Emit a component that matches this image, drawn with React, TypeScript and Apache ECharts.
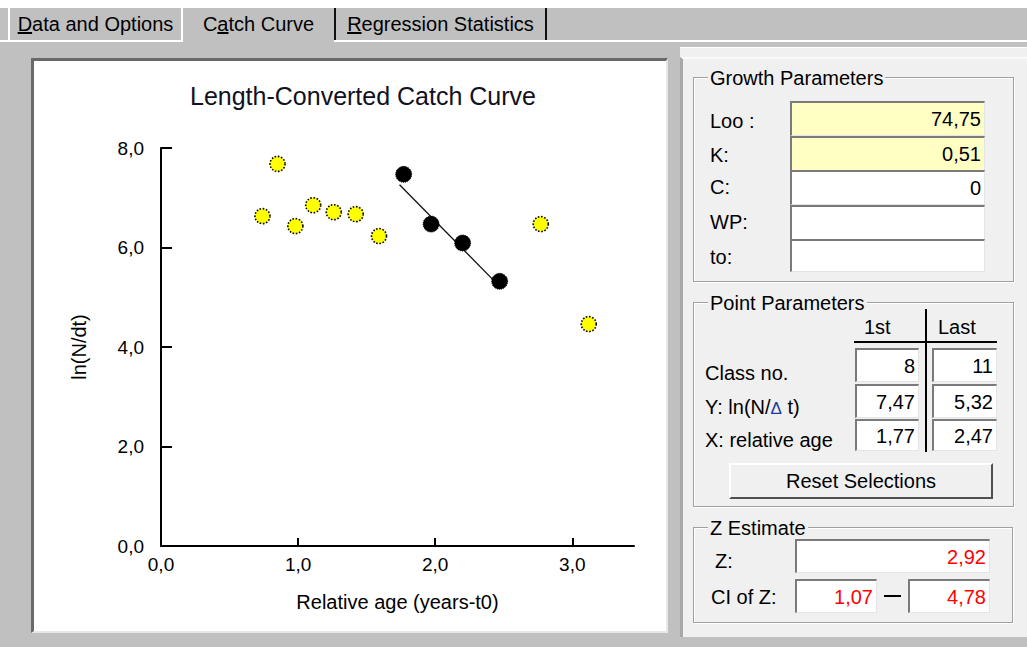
import React, { useEffect, useRef } from "react";
import * as echarts from "echarts";

const FONT = '"Liberation Sans", Arial, sans-serif';

// Chart data
const ages = [0.74, 0.85, 0.98, 1.11, 1.26, 1.42, 1.59, 1.77, 1.97, 2.2, 2.47, 2.77, 3.12];
const lnN = [6.63, 7.68, 6.43, 6.85, 6.71, 6.67, 6.23, 7.47, 6.47, 6.09, 5.32, 6.47, 4.46];
const firstSelected = 8; // class no. (1-based)
const lastSelected = 11;
const regX = [1.74, 2.43];
const regY = [7.26, 5.33];
const xTicks = [0, 1, 2, 3];
const chartTitle = "Length-Converted Catch Curve";
const xName = "Relative age (years-t0)";
const yName = "ln(N/dt)";

// Panel values
const growthLabels = ["Loo :", "K:", "C:", "WP:", "to:"];
const growthValues = ["74,75", "0,51", "0", "", ""];
const pointLabels = ["Class no.", "Y: ln(N/\u0394 t)", "X: relative age"];
const firstValues = ["8", "7,47", "1,77"];
const lastValues = ["11", "5,32", "2,47"];
const zValue = "2,92";
const ciLow = "1,07";
const ciHigh = "4,78";

const fmt = (v: number) => v.toFixed(1).replace(".", ",");

const Chart: React.FC = () => {
  const ref = useRef<HTMLDivElement>(null);
  useEffect(() => {
    if (!ref.current) return;
    const chart = echarts.init(ref.current, undefined, { renderer: "svg" });
    const other: number[][] = [];
    const sel: number[][] = [];
    ages.forEach((a, i) => {
      const cls = i + 1;
      if (cls >= firstSelected && cls <= lastSelected) sel.push([a, lnN[i]]);
      else other.push([a, lnN[i]]);
    });
    chart.setOption({
      animation: false,
      backgroundColor: "#ffffff",
      graphic: [
        {
          type: "text",
          x: 329,
          y: 35,
          style: {
            text: chartTitle,
            font: `25px ${FONT}`,
            fill: "#111122",
            textAlign: "center",
            textVerticalAlign: "middle",
          },
        },
      ],
      grid: { left: 127, top: 87, right: 32, bottom: 85 },
      xAxis: {
        type: "value",
        min: 0,
        max: 3.45,
        interval: 1,
        name: xName,
        nameLocation: "middle",
        nameGap: 46,
        nameTextStyle: { fontSize: 20, fontFamily: FONT, color: "#000" },
        axisLine: { show: true, onZero: false, lineStyle: { color: "#000", width: 2 } },
        axisTick: { show: true, inside: true, length: 8, customValues: xTicks, lineStyle: { color: "#000", width: 2 } },
        axisLabel: { customValues: xTicks, formatter: (v: number) => fmt(v), fontSize: 19, fontFamily: FONT, color: "#000", margin: 9 },
        splitLine: { show: false },
      },
      yAxis: {
        type: "value",
        min: 0,
        max: 8,
        interval: 2,
        name: yName,
        nameLocation: "middle",
        nameGap: 72,
        nameTextStyle: { fontSize: 20, fontFamily: FONT, color: "#000" },
        axisLine: { show: true, lineStyle: { color: "#000", width: 2 } },
        axisTick: { show: true, inside: true, length: 11, lineStyle: { color: "#000", width: 2 } },
        axisLabel: { formatter: (v: number) => fmt(v), fontSize: 19, fontFamily: FONT, color: "#000", margin: 17 },
        splitLine: { show: false },
      },
      series: [
        {
          type: "line",
          data: [
            [regX[0], regY[0]],
            [regX[1], regY[1]],
          ],
          showSymbol: false,
          lineStyle: { color: "#111", width: 1.3 },
          z: 1,
        },
        {
          type: "scatter",
          data: other,
          symbol: "circle",
          symbolSize: 15,
          itemStyle: { color: "#ffff00", opacity: 1, borderColor: "#000", borderWidth: 1.6, borderType: "dotted" },
          z: 3,
        },
        {
          type: "scatter",
          data: sel,
          symbol: "circle",
          symbolSize: 16,
          itemStyle: { color: "#000", opacity: 1, borderColor: "#000", borderWidth: 1, borderType: "dotted" },
          z: 3,
        },
      ],
    });
    return () => chart.dispose();
  }, []);
  return <div ref={ref} style={{ position: "absolute", left: 34, top: 61, width: 632, height: 570 }} />;
};

const abs = (l: number, t: number, w: number, h: number): React.CSSProperties => ({
  position: "absolute",
  left: l,
  top: t,
  width: w,
  height: h,
  boxSizing: "border-box",
});

const Sunken: React.FC<{ l: number; t: number; w: number; h: number; bg?: string; text?: string; color?: string }> = ({
  l, t, w, h, bg = "#ffffff", text = "", color = "#000",
}) => (
  <div
    style={{
      ...abs(l, t, w, h),
      background: bg,
      borderTop: "2px solid #7a7a7a",
      borderLeft: "2px solid #7a7a7a",
      borderBottom: "1px solid #e4e4e4",
      borderRight: "1px solid #e4e4e4",
      display: "flex",
      alignItems: "center",
      justifyContent: "flex-end",
      paddingRight: 3,
      fontSize: 20,
      color,
      lineHeight: 1,
    }}
  >
    {text}
  </div>
);

const Label: React.FC<{ l: number; cy: number; text: React.ReactNode; size?: number; bg?: string }> = ({ l, cy, text, size = 20, bg }) => (
  <div
    style={{
      position: "absolute",
      left: l,
      top: cy - 12,
      height: 24,
      lineHeight: "24px",
      fontSize: size,
      whiteSpace: "nowrap",
      color: "#000",
      background: bg,
      padding: bg ? "0 2px" : 0,
    }}
  >
    {text}
  </div>
);

const Group: React.FC<{ l: number; t: number; w: number; h: number; title: string }> = ({ l, t, w, h, title }) => (
  <>
    <div style={{ ...abs(l, t, w, h), border: "1px solid #a0a0a0" }} />
    <div style={{ ...abs(l + 1, t + 1, w - 2, h - 2), border: "1px solid #ffffff", borderRight: "none", borderBottom: "none" }} />
    <div style={{ ...abs(l + 1, t + 1, w, h), borderRight: "1px solid #ffffff", borderBottom: "1px solid #ffffff", borderTop: "none", borderLeft: "none" }} />
    <Label l={l + 15} cy={t + 1} text={title} bg="#f0f0f0" />
  </>
);

const Tab: React.FC<{ l: number; w: number; children: React.ReactNode; style?: React.CSSProperties }> = ({ l, w, children, style }) => (
  <div
    style={{
      ...abs(l, 8, w, 33),
      display: "flex",
      alignItems: "center",
      justifyContent: "center",
      fontSize: 20,
      color: "#000",
      whiteSpace: "nowrap",
      ...style,
    }}
  >
    {children}
  </div>
);

export default function App() {
  const growthTops = [101, 136, 170, 205, 239];
  const growthCy = [121, 155, 187, 222, 257];
  const pointTops = [348, 384, 419];
  const pointH = [34, 34, 32];
  const pointCy = [373, 407, 440];
  return (
    <div
      style={{
        position: "fixed",
        left: 0,
        top: 0,
        width: 1027,
        height: 647,
        background: "#c0c0c0",
        overflow: "hidden",
        fontFamily: FONT,
      }}
    >
      {/* top strip */}
      <div style={{ ...abs(0, 0, 1027, 8), background: "#ffffff" }} />
      {/* tabs */}
      <Tab l={8} w={175} style={{ borderLeft: "2px solid #ffffff", borderRight: "2px solid #ffffff" }}>
        <span><u>D</u>ata and Options</span>
      </Tab>
      <Tab l={183} w={151}>
        <span>C<u>a</u>tch Curve</span>
      </Tab>
      <Tab l={334} w={213} style={{ borderLeft: "2px solid #101010", borderRight: "2px solid #101010" }}>
        <span><u>R</u>egression Statistics</span>
      </Tab>
      <div style={{ ...abs(0, 40, 183, 2), background: "#ffffff" }} />
      <div style={{ ...abs(334, 40, 693, 2), background: "#ffffff" }} />

      {/* chart panel */}
      <div
        style={{
          ...abs(31, 58, 637, 575),
          background: "#ffffff",
          borderTop: "3px solid #6a6a6a",
          borderLeft: "3px solid #6a6a6a",
          borderRight: "2px solid #e8e8e8",
          borderBottom: "2px solid #e8e8e8",
        }}
      />
      <Chart />

      {/* right panel */}
      <div style={{ ...abs(680, 47, 347, 590), background: "#f0f0f0", borderTop: "1px solid #ffffff" }} />
      <div style={{ ...abs(680, 57, 347, 580), borderLeft: "3px solid #a8a8a8", borderTop: "2px solid #fafafa" }} />

      <Group l={693} t={77} w={321} h={205} title="Growth Parameters" />
      {growthLabels.map((s, i) => (
        <Label key={s} l={710} cy={growthCy[i]} text={s} />
      ))}
      {growthValues.map((v, i) => (
        <Sunken key={i} l={790} t={growthTops[i]} w={195} h={i === 4 ? 33 : 35} bg={i < 2 ? "#ffffc4" : "#ffffff"} text={v} />
      ))}

      <Group l={693} t={302} w={321} h={205} title="Point Parameters" />
      <Label l={864} cy={327} text="1st" />
      <Label l={938} cy={327} text="Last" />
      <div style={{ ...abs(854, 341, 143, 2), background: "#000" }} />
      <div style={{ ...abs(925, 309, 2, 143), background: "#000" }} />
      {pointLabels.map((s, i) => (
        <Label
          key={s}
          l={705}
          cy={pointCy[i]}
          text={
            i === 1 ? (
              <span>
                Y: ln(N/<span style={{ color: "#1e3ca0", fontSize: 17 }}>{"\u0394"}</span> t)
              </span>
            ) : (
              s
            )
          }
        />
      ))}
      {firstValues.map((v, i) => (
        <Sunken key={"f" + i} l={855} t={pointTops[i]} w={64} h={pointH[i]} text={v} />
      ))}
      {lastValues.map((v, i) => (
        <Sunken key={"l" + i} l={932} t={pointTops[i]} w={65} h={pointH[i]} text={v} />
      ))}
      <div
        style={{
          ...abs(729, 463, 264, 36),
          background: "#f0f0f0",
          borderTop: "2px solid #ffffff",
          borderLeft: "2px solid #ffffff",
          borderRight: "2px solid #505050",
          borderBottom: "2px solid #505050",
          display: "flex",
          alignItems: "center",
          justifyContent: "center",
          fontSize: 20,
          color: "#000",
        }}
      >
        Reset Selections
      </div>

      <Group l={693} t={527} w={320} h={96} title="Z Estimate" />
      <Label l={715} cy={561} text="Z:" />
      <Sunken l={795} t={539} w={195} h={34} text={zValue} color="#ff0000" />
      <Label l={711} cy={597} text="CI of Z:" />
      <Sunken l={795} t={579} w={82} h={34} text={ciLow} color="#ff0000" />
      <div style={{ ...abs(884, 595, 17, 2), background: "#000" }} />
      <Sunken l={908} t={579} w={82} h={34} text={ciHigh} color="#ff0000" />
    </div>
  );
}
